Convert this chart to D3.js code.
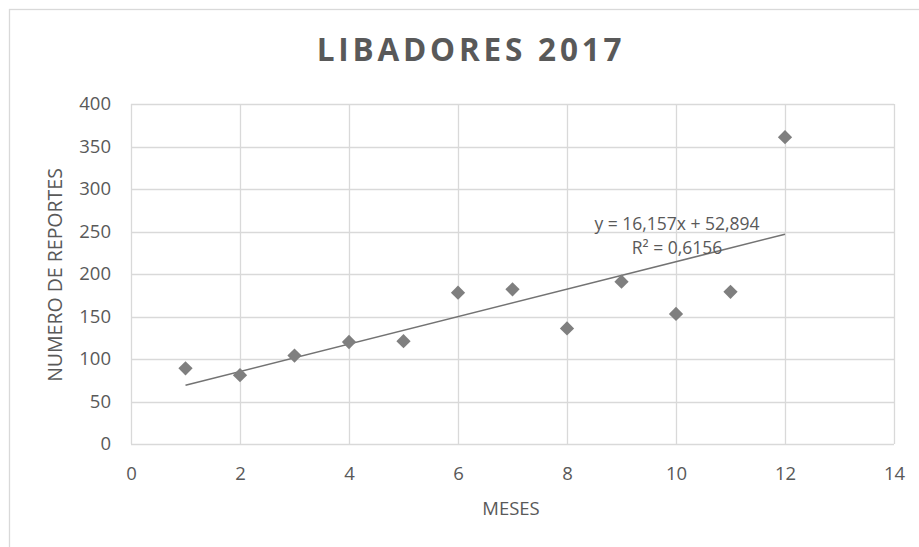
<!DOCTYPE html>
<html><head><meta charset="utf-8">
<script src="https://cdn.jsdelivr.net/npm/d3@7"></script>
<style>body{margin:0;background:#fff}svg{display:block}</style>
</head><body>
<script>
const months = [1,2,3,4,5,6,7,8,9,10,11,12];
const reports = [89,81,104,120,121,178,182,136,191,153,179,361];
const xTicks = [0,2,4,6,8,10,12,14];
const yTicks = [0,50,100,150,200,250,300,350,400];
const title = "LIBADORES 2017";
const xTitle = "MESES";
const yTitle = "NUMERO DE REPORTES";
const eqText = "y = 16,157x + 52,894";
const r2Text = "R² = 0,6156";

const W = 919, H = 547;
const svg = d3.select("body").append("svg").attr("width", W).attr("height", H);
const font = "'Open Sans', 'Noto Sans', sans-serif";
const grey = "#595959";

svg.append("rect").attr("x", 9.5).attr("y", 9.5).attr("width", W + 20).attr("height", H + 20)
  .attr("fill", "none").attr("stroke", "#d9d9d9").attr("stroke-width", 1.3);

const x = d3.scaleLinear().domain([0, 14]).range([131, 894]);
const y = d3.scaleLinear().domain([0, 400]).range([444, 104]);

// grid
svg.append("g").selectAll("line").data(yTicks).join("line")
  .attr("x1", x(0)).attr("x2", x(14)).attr("y1", d => Math.round(y(d)) + 0.5).attr("y2", d => Math.round(y(d)) + 0.5)
  .attr("stroke", "#d9d9d9").attr("stroke-width", 1.3);
svg.append("g").selectAll("line").data(xTicks).join("line")
  .attr("y1", y(0)).attr("y2", y(400)).attr("x1", d => Math.round(x(d)) + 0.5).attr("x2", d => Math.round(x(d)) + 0.5)
  .attr("stroke", "#d9d9d9").attr("stroke-width", 1.3);

// axes labels via d3 axes
const xAxis = svg.append("g").attr("transform", `translate(0,${y(0)})`)
  .call(d3.axisBottom(x).tickValues(xTicks).tickSize(0).tickPadding(23).tickFormat(d3.format("d")));
const yAxis = svg.append("g").attr("transform", `translate(${x(0)},0)`)
  .call(d3.axisLeft(y).tickValues(yTicks).tickSize(0).tickPadding(20).tickFormat(d3.format("d")));
[xAxis, yAxis].forEach(a => {
  a.select(".domain").remove();
  a.selectAll("text").attr("fill", grey).style("font-family", font).style("font-size", "18.5px");
});

// titles
svg.append("text").attr("x", 471).attr("y", 61).attr("text-anchor", "middle")
  .attr("fill", grey).style("font-family", font).style("font-size", "31.5px").style("font-weight", "bold")
  .style("letter-spacing", "3.8px").text(title);
svg.append("text").attr("x", 511).attr("y", 515).attr("text-anchor", "middle")
  .attr("fill", grey).style("font-family", font).style("font-size", "18.5px").text(xTitle);
svg.append("text").attr("transform", "translate(62,275) rotate(-90)").attr("text-anchor", "middle")
  .attr("fill", grey).style("font-family", font).style("font-size", "19.5px").text(yTitle);

// trendline (least squares)
const mx = d3.mean(months), my = d3.mean(reports);
const slope = d3.sum(months.map((m, i) => (m - mx) * (reports[i] - my))) / d3.sum(months.map(m => (m - mx) ** 2));
const intercept = my - slope * mx;
const x0 = d3.min(months), x1 = d3.max(months);
svg.append("line").attr("x1", x(x0)).attr("y1", y(slope * x0 + intercept))
  .attr("x2", x(x1)).attr("y2", y(slope * x1 + intercept))
  .attr("stroke", "#737373").attr("stroke-width", 1.6);

// points
svg.append("g").selectAll("path").data(months).join("path")
  .attr("d", d3.symbol().type(d3.symbolDiamond2).size(130))
  .attr("transform", (d, i) => `translate(${x(d)},${y(reports[i])})`)
  .attr("fill", "#7f7f7f");

// equation
svg.append("text").attr("x", 677).attr("y", 230).attr("text-anchor", "middle")
  .attr("fill", grey).style("font-family", font).style("font-size", "17.5px").text(eqText);
svg.append("text").attr("x", 677).attr("y", 254).attr("text-anchor", "middle")
  .attr("fill", grey).style("font-family", font).style("font-size", "17.5px").text(r2Text);
</script>
</body></html>
